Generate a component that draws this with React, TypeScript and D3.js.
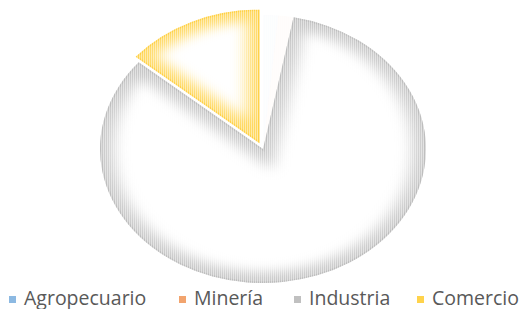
import React from "react";
import * as d3 from "d3";

// sectores y participación (%)
const sectores = ["Agropecuario", "Minería", "Industria", "Comercio"];
const valores = [1.5, 1.5, 83.2, 13.8];
const colores = ["#5B9BD5", "#ED7D31", "#A5A5A5", "#FFC000"];
// separación de cada porción (px)
const separacion = [0, 0, 0, 6];

const width = 523;
const height = 309;
const cx = 263;
const cy = 149;
const ry = 134;
const sx = 163 / 134;

const legendX = [9, 179, 294, 417];

const App = () => {
  const pie = d3.pie<number>().sort(null).value((d) => d);
  const arc = d3.arc<d3.PieArcDatum<number>>().innerRadius(0).outerRadius(ry);
  const slices = pie(valores);

  return (
    <svg
      width={width}
      height={height}
      style={{ position: "absolute", left: 0, top: 0, background: "#fff" }}
    >
      <defs>
        <pattern id="rayas" width={2} height={4} patternUnits="userSpaceOnUse">
          <rect x={0} y={0} width={1} height={4} fill="#ddd" />
          <rect x={1} y={0} width={1} height={4} fill="#777" />
        </pattern>
        <mask id="mascara" maskUnits="userSpaceOnUse" x={0} y={0} width={width} height={height}>
          <rect x={0} y={0} width={width} height={height} fill="url(#rayas)" />
        </mask>
        <filter id="difuso" x="-20%" y="-20%" width="140%" height="140%">
          <feGaussianBlur stdDeviation={6} />
        </filter>
        {slices.map((d, i) => (
          <clipPath id={"corte" + i} key={i}>
            <path d={arc(d) || ""} />
          </clipPath>
        ))}
      </defs>

      <g mask="url(#mascara)">
        <g transform={`translate(${cx},${cy}) scale(${sx},1)`}>
          {slices.map((d, i) => {
            const a = (d.startAngle + d.endAngle) / 2;
            const dx = Math.sin(a) * separacion[i];
            const dy = -Math.cos(a) * separacion[i];
            const visible = d.value > 2 ? 1 : 0.03;
            return (
              <g key={i} transform={`translate(${dx},${dy})`} opacity={visible}>
                <path d={arc(d) || ""} fill="#fff" />
                <g clipPath={`url(#corte${i})`}>
                  <path
                    d={arc(d) || ""}
                    fill="none"
                    stroke={colores[i]}
                    strokeWidth={22}
                    strokeOpacity={0.72}
                    filter="url(#difuso)"
                  />
                  <path
                    d={arc(d) || ""}
                    fill="none"
                    stroke={colores[i]}
                    strokeWidth={3}
                    strokeOpacity={0.5}
                  />
                </g>
              </g>
            );
          })}
        </g>
      </g>

      <g fontFamily="'Open Sans', sans-serif" fontSize={19.5} fill="#595959">
        {sectores.map((s, i) => (
          <g key={s} transform={`translate(${legendX[i]},0)`}>
            <rect x={0} y={296} width={7} height={7} fill={colores[i]} opacity={0.7} />
            <text x={15} y={304.5}>
              {s}
            </text>
          </g>
        ))}
      </g>
    </svg>
  );
};

export default App;
